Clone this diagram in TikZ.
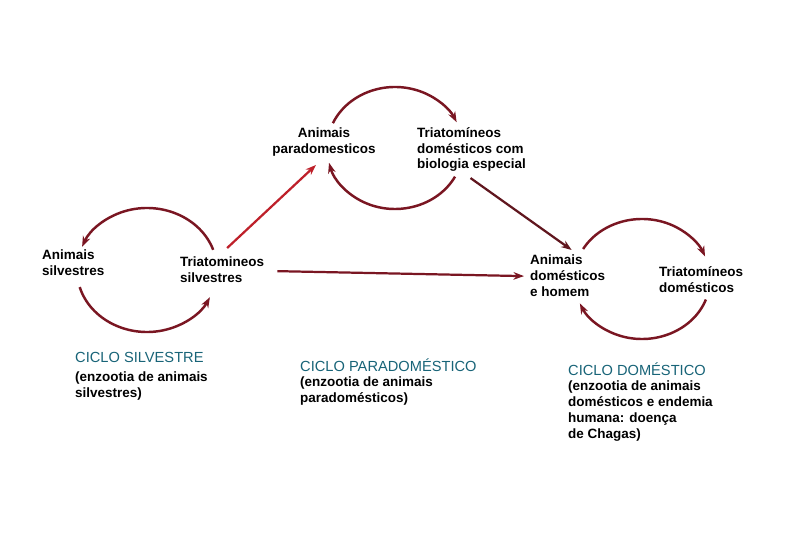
\documentclass[tikz,border=0pt]{standalone}
\usepackage{fontspec}
\setmainfont{Liberation Sans}
\usepackage{xcolor}
\usepackage{tikz}
\usetikzlibrary{arrows.meta}
\definecolor{cycleRed}{RGB}{122,22,34}
\definecolor{linkRed}{RGB}{190,32,42}
\definecolor{linkDark}{RGB}{96,22,30}
\definecolor{cycleTeal}{RGB}{24,100,120}

\begin{document}
\begin{tikzpicture}[x=0.3mm,y=0.3mm,
  lbl/.style={font=\fontsize{11.5}{13.6}\selectfont\bfseries, align=left, inner sep=0pt, anchor=north west},
  ttl/.style={font=\fontsize{12.5}{14}\selectfont, text=cycleTeal, inner sep=0pt, anchor=base west},
  cyc/.style={draw=cycleRed, line width=2.1pt, -{Stealth[length=9pt,width=6.5pt]}},
  link/.style={line width=1.9pt, -{Stealth[length=9pt,width=6.5pt]}}]
\fill[white] (0,0) rectangle (810,540);
\useasboundingbox (0,0) rectangle (810,540);

\coordinate (silv) at (147,270);
\coordinate (para) at (395,392);
\coordinate (dome) at (642,261);

\node[lbl] (as) at (42,290) {Animais\\silvestres};
\node[lbl] (ts) at (180,283) {Triatomineos\\silvestres};
\node[lbl, align=center, anchor=north] (ap) at (324,412) {Animais\\paradomesticos};
\node[lbl] (tp) at (417,413) {Triatomíneos\\domésticos com\\biologia especial};
\node[lbl] (ad) at (530,285) {Animais\\domésticos\\e homem};
\node[lbl] (td) at (659,274) {Triatomíneos\\domésticos};

\draw[cyc] (silv) ++(19:70 and 62) arc[start angle=19, end angle=158, x radius=70, y radius=62];
\draw[cyc] (silv) ++(196:70 and 62) arc[start angle=196, end angle=334, x radius=70, y radius=62];
\draw[cyc] (para) ++(156:68 and 61) arc[start angle=156, end angle=25, x radius=68, y radius=61];
\draw[cyc] (para) ++(-28:68 and 61) arc[start angle=-28, end angle=-166, x radius=68, y radius=61];
\draw[cyc] (dome) ++(150:68 and 60) arc[start angle=150, end angle=22, x radius=68, y radius=60];
\draw[cyc] (dome) ++(-20:68 and 60) arc[start angle=-20, end angle=-156, x radius=68, y radius=60];

\draw[link, linkRed] ([shift={(5,9)}]ts.north) -- ([shift={(-8,-8)}]ap.south);
\draw[link, linkDark] ([shift={(-1,-6)}]tp.south) -- ([shift={(4,5)}]ad.north);
\draw[link, cycleRed] ([shift={(13,-1)}]ts.east) -- ([shift={(-6,0)}]ad.west);

\node[ttl] (silvT) at (75,178) {CICLO SILVESTRE};
\node[lbl] (silvB) at (75,168) {(enzootia de animais\\silvestres)};
\node[ttl] (paraT) at (300,169) {CICLO PARADOMÉSTICO};
\node[lbl] (paraB) at (300,163) {(enzootia de animais\\paradomésticos)};
\node[ttl] (domeT) at (568,165) {CICLO DOMÉSTICO};
\node[lbl] (domeB) at (568,159) {(enzootia de animais\\domésticos e endemia\\humana: doença\\de Chagas)};
\end{tikzpicture}
\end{document}
